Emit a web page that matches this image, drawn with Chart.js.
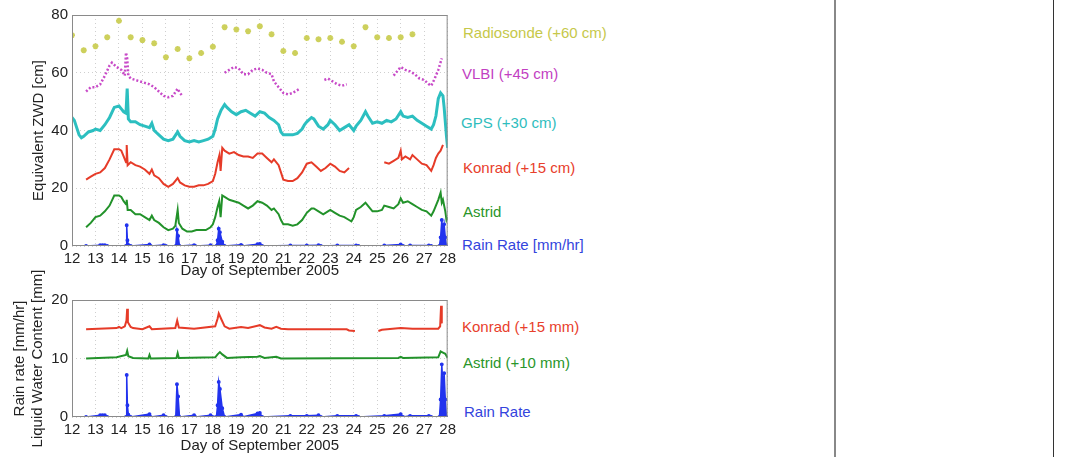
<!DOCTYPE html>
<html>
<head>
<meta charset="utf-8">
<script src="https://cdn.jsdelivr.net/npm/chart.js@4.4.0/dist/chart.umd.min.js"></script>
<style>
  body { margin: 0; background: #fff; }
  #wrap { position: relative; width: 1071px; height: 457px; overflow: hidden; font-family: "Liberation Sans", Arial, sans-serif; }
  canvas { position: absolute; left: 0; }
  .lab { position: absolute; font-size: 15px; line-height: 18px; white-space: nowrap; transform: translateY(-50%); }
  .vline { position: absolute; top: 0; height: 457px; }
</style>
</head>
<body>
<div id="wrap">
  <canvas id="zwd" width="460" height="285" style="top:0"></canvas>
  <canvas id="lwc" width="460" height="207" style="top:250px"></canvas>

  <div class="lab" style="left:463px;top:33px;color:#c6c84a">Radiosonde (+60 cm)</div>
  <div class="lab" style="left:462px;top:74px;color:#c23fc2">VLBI (+45 cm)</div>
  <div class="lab" style="left:461px;top:123px;color:#2fbdbd">GPS (+30 cm)</div>
  <div class="lab" style="left:463px;top:168px;color:#e8402c">Konrad (+15 cm)</div>
  <div class="lab" style="left:463px;top:212px;color:#2a962a">Astrid</div>
  <div class="lab" style="left:462px;top:245px;color:#3344dd">Rain Rate [mm/hr]</div>

  <div class="lab" style="left:462px;top:327px;color:#e8402c">Konrad (+15 mm)</div>
  <div class="lab" style="left:463px;top:363px;color:#2a962a">Astrid (+10 mm)</div>
  <div class="lab" style="left:464px;top:412px;color:#3344dd">Rain Rate</div>

  <div class="vline" style="left:834px;width:2px;background:#888"></div>
  <div class="vline" style="left:1053px;width:1px;background:#333"></div>
</div>
<script>
// offsets used in the figure
const sondeOff = 60, vlbiOff = 45, gpsOff = 30, konradOff = 15, astridOff = 0
const konradLwcOff = 15, astridLwcOff = 10

// zenith wet delay, cm (without offset)
const sondeDay = [12,12.5,13,13.5,14,14.5,15,15.5,16,16.5,17,17.5,18,18.5,19,19.5,20,20.5,21,21.5,22,22.5,23,23.5,24,24.5,25,25.5,26,26.5]
const sondeZwd = [13,7.8,9.2,12.3,18,12.3,11.3,10.2,5.4,8.2,5,6.8,9,15.8,15,14.4,16.1,13.3,7.5,6.8,12,11.6,12,10.7,9.2,15.8,12.3,12,12.3,13.3]

const vlbiDay = [12.6,12.8,13.0,13.2,13.4,13.6,13.7,13.9,14.1,14.25,14.3,14.35,14.4,14.5,14.7,14.9,15.1,15.3,15.5,15.7,15.9,16.1,16.3,16.5,16.6,16.7,17.5,18.5,18.7,18.9,19.1,19.3,19.5,19.7,19.9,20.1,20.3,20.5,20.6,20.8,21.0,21.2,21.4,21.6,21.7,22.2,22.75,22.9,23.1,23.3,23.5,23.7,24.7,25.7,25.85,26.0,26.2,26.4,26.6,26.8,27.0,27.2,27.3,27.45,27.6,27.75]
const vlbiZwd = [8.5,10,10,11,14,17.5,18.5,17,16,14,22,20,14,13,12.5,12,11.5,11,10,8.5,7,6.5,7,9.5,8,7,null,15,16,17,16.5,14.5,14.5,16,16.5,16,15,14.5,12,10,8,7.5,8,9,9.5,null,12.5,13,12,11,10.5,11,null,14,15.5,17,16,15.5,14.5,13,12.5,11,10.5,13,16,20]

const gpsDay = [12.0,12.1,12.2,12.3,12.4,12.5,12.7,12.9,13.0,13.2,13.4,13.6,13.8,14.0,14.1,14.2,14.3,14.35,14.4,14.5,14.7,14.9,15.1,15.3,15.4,15.5,15.7,15.9,16.1,16.3,16.5,16.6,16.8,17.0,17.2,17.4,17.6,17.8,18.0,18.1,18.2,18.35,18.5,18.6,18.8,19.0,19.2,19.4,19.6,19.8,20.0,20.2,20.4,20.6,20.8,20.9,21.0,21.2,21.4,21.6,21.8,21.9,22.0,22.2,22.3,22.5,22.7,22.9,23.0,23.2,23.4,23.6,23.8,24.0,24.1,24.3,24.5,24.6,24.8,25.0,25.2,25.4,25.6,25.8,26.0,26.1,26.3,26.5,26.7,26.9,27.1,27.3,27.4,27.5,27.6,27.7,27.8,27.85,27.9,27.95,28.0]
const gpsZwd = [14.5,13.5,11,8.5,7.5,8,9.5,10,10.5,10,12,14.5,18,18.5,17.5,16.5,16,24.5,14,13,13,12,11.5,11,12.5,10,8.5,7,6.5,7,9.5,8,6.5,6,6.5,6,6.5,7,8,10.5,14,17,19,18,16.5,15.5,16.5,17,16,15,16.5,16,14.5,13.5,12,9.5,8.5,8.5,8.5,9,10.5,12,13,14.5,14,11.5,10.5,12,13.5,12,10,11,12,10,11.5,13.5,16.5,15,12.5,13,12.5,13.5,13,14,16.5,15,14.5,15,13.5,12.5,11.5,10.5,12,15,21,23,22,18,13,8,4]

const konradDay = [12.6,12.8,13.0,13.2,13.4,13.6,13.8,14.0,14.1,14.2,14.3,14.33,14.37,14.5,14.7,14.9,15.1,15.3,15.4,15.5,15.7,15.9,16.1,16.3,16.5,16.6,16.8,17.0,17.2,17.4,17.6,17.8,18.0,18.1,18.2,18.28,18.33,18.4,18.5,18.7,18.9,19.1,19.3,19.5,19.7,19.9,20.1,20.3,20.5,20.6,20.8,20.9,21.0,21.2,21.4,21.6,21.8,22.0,22.2,22.4,22.6,22.8,23.0,23.2,23.4,23.6,23.8,24.5,25.3,25.5,25.7,25.9,26.0,26.05,26.2,26.4,26.5,26.7,26.9,27.1,27.3,27.4,27.5,27.6,27.7,27.8]
const konradZwd = [8,9,10,10.5,12,15,18.5,18.5,18,16,14,20,13,14,13,12.5,11.5,10,11.5,9.5,8.5,6.5,5.5,6.5,8.5,7,6,5.5,5.5,6,6,6.5,7.5,10,14,16.5,11,19,18,17,17.5,16.5,16,16,15.5,17,17,15.5,14,15,13,10.5,8,7.5,7.5,8.5,10.5,13.5,14,12.5,11,12,13.5,12.5,11,10.5,12,null,14,13.5,14.5,15.5,18,15,16,15,16.5,15,13.5,13,11,13,15.5,17,18,20]

const astridDay = [12.6,12.8,13.0,13.2,13.4,13.6,13.8,14.0,14.1,14.2,14.3,14.33,14.37,14.5,14.7,14.9,15.1,15.3,15.4,15.5,15.7,15.9,16.1,16.3,16.4,16.5,16.55,16.7,16.9,17.1,17.3,17.5,17.7,17.9,18.0,18.1,18.2,18.27,18.33,18.4,18.5,18.7,18.9,19.1,19.3,19.5,19.7,19.9,20.1,20.3,20.5,20.6,20.8,20.9,21.0,21.2,21.4,21.6,21.8,22.0,22.2,22.3,22.5,22.7,22.9,23.0,23.2,23.4,23.6,23.8,23.9,24.0,24.1,24.3,24.5,24.6,24.8,25.0,25.2,25.3,25.5,25.7,25.9,26.0,26.1,26.3,26.5,26.7,26.9,27.1,27.3,27.4,27.5,27.6,27.7,27.75,27.8,27.9,27.95,28.0]
const astridZwd = [6.5,8,10,10.5,12,14,17.5,17.5,17,15.5,14.5,16,12.5,12.5,11,11,10,9,10.5,9,8,6.5,5.5,6,7,12.5,8,6,5,5,5.5,5.5,5.5,6.5,7.5,10,13.5,15.5,10,17.5,17,16,15.5,15,14,13,14,15.5,15,14,12.5,13,11,9,7.5,7.5,7,7.5,9,11.5,13,13,12,11,12,12.5,11.5,10.5,10,9,8.5,10,12.5,13.5,15,14,12,12,12.5,14,13.5,13,14.5,16.5,15,15.5,14.5,13.5,12.5,12,10.5,12,14,16,18.5,15,16,12,9,10]

// rain rate, mm/hr
const rainDay = [12.6,13.2,13.3,13.4,13.5,14.3,14.33,14.36,14.4,14.5,15.3,15.35,15.9,16.0,16.42,16.47,16.52,16.58,17.2,17.25,17.9,18.15,18.2,18.25,18.3,18.4,18.5,19.2,19.25,19.9,20.0,20.1,21.3,22.0,22.5,22.6,23.3,24.1,24.2,25.3,26.0,26.1,26.4,27.2,27.3,27.65,27.7,27.75,27.8,27.85,27.9,27.95]
const rainRate = [0,0.3,0.3,0.3,0,0,7.2,2,0.4,0,0.5,0,0.3,0,0,5.6,3.5,0,0.3,0,0.3,0,2,6,4.8,1.5,0,0.4,0,0.6,0.7,0,0.2,0.2,0.3,0,0.2,0.2,0,0.2,0.5,0,0.2,0.2,0,0,3,9,5,7.5,3,0]

// liquid water content, mm (without offset)
const konradLwcDay = [12.6,13.9,14.0,14.1,14.25,14.32,14.35,14.38,14.5,14.6,15.0,15.3,15.4,16.4,16.48,16.55,17.2,18.1,18.2,18.25,18.35,18.5,18.7,19.2,19.5,19.9,20.0,20.2,20.5,20.7,20.9,21.2,23.7,23.8,24.05,24.5,25.05,25.2,26.0,26.5,27.6,27.68,27.72,27.75]
const konradLwc = [0,0.2,0.4,0.2,0.5,1.5,3.5,1.2,0.4,0.2,0,0.5,0,0.2,1.5,0.3,0.1,0.5,1.8,2.7,1.8,0.5,0.1,0.4,0.2,0.6,0.7,0.3,0.1,0.4,0.1,0,0,-0.2,-0.3,null,-0.3,-0.1,0.2,0.1,0.1,0.5,4,1]
const astridLwcDay = [12.6,13.9,14.3,14.35,14.4,14.6,15.25,15.3,15.35,16.45,16.5,16.55,18.1,18.2,18.3,18.4,18.6,19.2,19.9,20.0,20.2,20.7,20.9,25.9,26.0,26.1,27.6,27.7,27.8,27.9,28.0]
const astridLwc = [0,0.2,0.6,1.3,0.4,0.1,0,0.6,0,0.1,0.9,0.1,0.2,0.7,1.1,0.7,0.1,0.2,0.3,0.4,0.1,0.3,0,0.1,0.3,0.1,0.2,1.2,1.0,0.8,0.1]

const dayTicks = [12,13,14,15,16,17,18,19,20,21,22,23,24,25,26,27,28]

const pts = (xs, ys, off) => xs.map((x, i) => ({ x: x, y: ys[i] == null ? null : ys[i] + off }))

Chart.defaults.font.family = '"Liberation Sans", Arial, sans-serif'
Chart.defaults.font.size = 15
Chart.defaults.color = '#222'
Chart.defaults.animation = false

// box around plot area (matlab style)
const boxPlugin = {
  id: 'box',
  afterDraw(chart) {
    const a = chart.chartArea, ctx = chart.ctx
    ctx.save()
    ctx.strokeStyle = '#8a8a8a'
    ctx.lineWidth = 1
    ctx.strokeRect(a.left + 0.5, a.top + 0.5, a.right - a.left - 1, a.bottom - a.top - 1)
    ctx.restore()
  }
}

function xAxis(axisHeight, titlePad) {
  return {
    type: 'linear', min: 12, max: 28,
    afterBuildTicks: s => { s.ticks = dayTicks.map(v => ({ value: v })) },
    afterFit: s => { s.height = axisHeight },
    grid: { color: '#cfcfcf', drawTicks: false },
    border: { display: false, dash: [1, 3] },
    ticks: { padding: 4, maxRotation: 0, autoSkip: false },
    title: { display: true, text: 'Day of September 2005', font: { size: 15 }, padding: { top: 0, bottom: titlePad } }
  }
}

function yAxis(max, step, title, titlePad) {
  return {
    min: 0, max: max,
    afterFit: s => { s.width = 72 },
    grid: { color: '#cfcfcf', drawTicks: false },
    border: { display: false, dash: [1, 3] },
    ticks: { stepSize: step, padding: 4 },
    title: { display: true, text: title, font: { size: 15 }, padding: { top: titlePad, bottom: 0 } }
  }
}

new Chart(document.getElementById('zwd'), {
  type: 'line',
  data: {
    datasets: [
      { label: 'Radiosonde', data: pts(sondeDay, sondeZwd, sondeOff), showLine: false,
        pointStyle: 'star', pointRadius: 3, borderWidth: 1.8, borderColor: '#cdd05c', backgroundColor: '#cdd05c' },
      { label: 'VLBI', data: pts(vlbiDay, vlbiZwd, vlbiOff), borderColor: '#c84ac8', borderWidth: 2.5,
        borderDash: [2, 2], pointRadius: 0 },
      { label: 'GPS', data: pts(gpsDay, gpsZwd, gpsOff), borderColor: '#2cbfc0', borderWidth: 3, pointRadius: 0 },
      { label: 'Konrad', data: pts(konradDay, konradZwd, konradOff), borderColor: '#e63b28', borderWidth: 2, pointRadius: 0 },
      { label: 'Astrid', data: pts(astridDay, astridZwd, astridOff), borderColor: '#22922a', borderWidth: 2, pointRadius: 0 },
      { label: 'Rain Rate', data: pts(rainDay, rainRate, 0), borderColor: '#2233ee', backgroundColor: '#2233ee',
        borderWidth: 1.5, pointRadius: 1.2, fill: 'origin' }
    ]
  },
  options: {
    responsive: false,
    layout: { padding: { top: 15, right: 9, left: 0, bottom: 0 } },
    plugins: { legend: { display: false }, tooltip: { enabled: false } },
    scales: {
      x: xAxis(39, 5),
      y: yAxis(80, 20, 'Equivalent ZWD [cm]', 30)
    }
  },
  plugins: [boxPlugin]
})

new Chart(document.getElementById('lwc'), {
  type: 'line',
  data: {
    datasets: [
      { label: 'Konrad', data: pts(konradLwcDay, konradLwc, konradLwcOff), borderColor: '#e63b28', borderWidth: 2, pointRadius: 0 },
      { label: 'Astrid', data: pts(astridLwcDay, astridLwc, astridLwcOff), borderColor: '#22922a', borderWidth: 2, pointRadius: 0 },
      { label: 'Rain Rate', data: pts(rainDay, rainRate, 0), borderColor: '#2233ee', backgroundColor: '#2233ee',
        borderWidth: 1.5, pointRadius: 1.2, fill: 'origin' }
    ]
  },
  options: {
    responsive: false,
    layout: { padding: { top: 50, right: 9, left: 0, bottom: 0 } },
    plugins: { legend: { display: false }, tooltip: { enabled: false } },
    scales: {
      x: xAxis(40, 2),
      y: yAxis(20, 10, ['Rain rate [mm/hr]', 'Liquid Water Content [mm]'], 11)
    }
  },
  plugins: [boxPlugin]
})
</script>
</body>
</html>
